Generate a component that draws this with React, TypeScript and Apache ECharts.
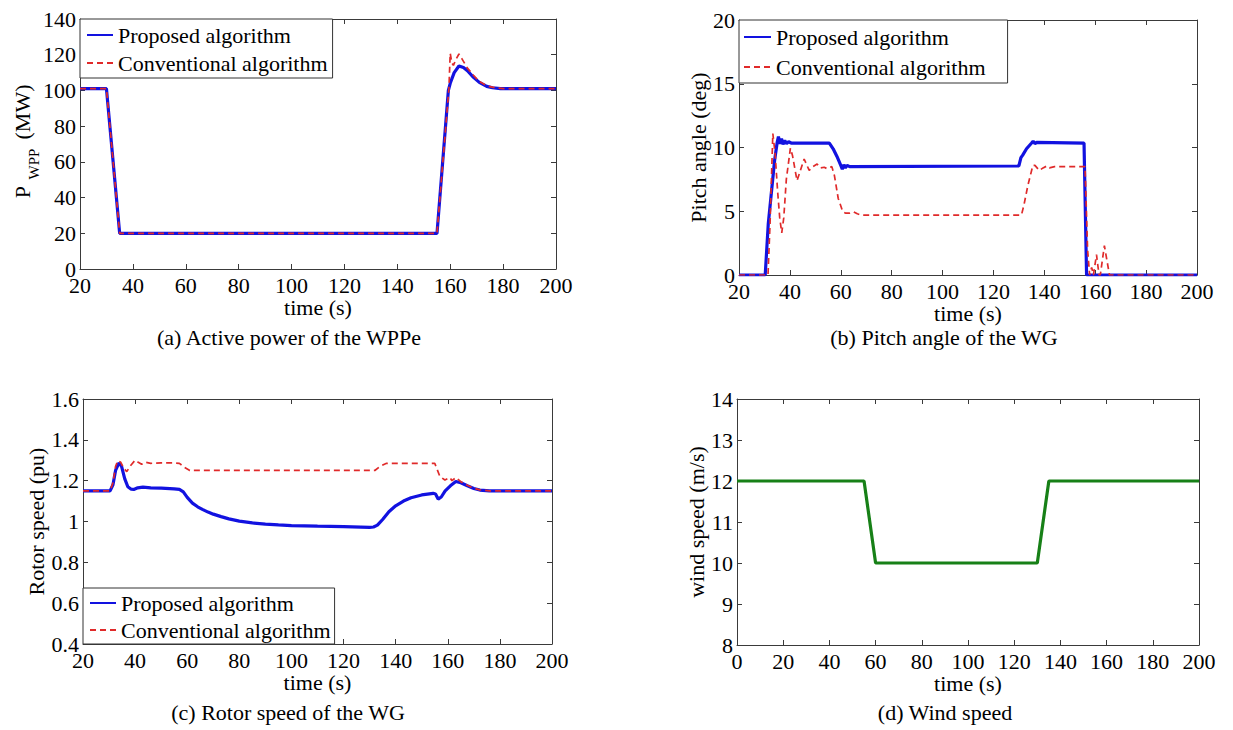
import React, { useEffect, useRef } from "react";
import * as echarts from "echarts";

const FONT = "Liberation Serif, Times New Roman, serif";
const FONT_TICK = "serif";
const FONT_NAME = "'Liberation Serif', serif";
const FONT_LEGEND = "Times New Roman";
const AX = "#3a3a3a";
const BLUE = "#1212e0";
const RED = "#e02a2a";
const GREEN = "#178017";

const NAME_P = "Proposed algorithm";
const NAME_C = "Conventional algorithm";

// (a) Active power of the WPPe  [time s, MW]
const powerProposed: [number, number][] = [
  [20, 101], [30, 101], [35, 20], [155, 20], [159.3, 100], [160, 104], [161.5, 110],
  [163.3, 113.7], [165, 112.8], [166.5, 111], [168.8, 107.3], [171, 104.5],
  [173.8, 102.3], [176, 101.5], [179, 101], [200, 101],
];
const powerConventional: [number, number][] = [
  [20, 101], [30, 101], [35, 20], [155, 20], [159.5, 101], [160, 120.8], [160.6, 115.5],
  [161.2, 114], [162.2, 117.5], [163.3, 120.4], [164.5, 117.5], [166.5, 112.5],
  [168.8, 108.5], [171, 105], [174, 102.5], [177, 101.5], [180, 101], [200, 101],
];

// (b) Pitch angle of the WG  [time s, deg]
const pitchProposed: [number, number][] = [
  [20, 0], [30.3, 0], [31.5, 4], [32.5, 6], [34, 9], [35, 10.4], [35.5, 10.85], [36.1, 10.3],
  [36.7, 10.7], [37.3, 10.25], [38, 10.55], [38.7, 10.3], [39.5, 10.45], [40.5, 10.35],
  [55.5, 10.35], [57, 9.9], [58.5, 9.3], [60, 8.6], [60.6, 8.3], [61.2, 8.65], [61.8, 8.4],
  [62.5, 8.6], [63.5, 8.5], [130, 8.55], [130.8, 9.2], [131.5, 9.4], [133, 9.9], [135, 10.35],
  [135.6, 10.5], [136.3, 10.3], [137, 10.4], [155.6, 10.35], [156.6, 0], [200, 0],
];
const pitchConventional: [number, number][] = [
  [20, 0], [31.4, 0], [32.2, 4], [33.3, 11.1], [34.2, 9.5], [35.2, 6.5], [36, 4.5], [36.8, 3.3],
  [37.6, 4.5], [38.6, 7.5], [40.2, 9.95], [41, 9.4], [42.8, 7.4], [43.8, 8], [45.6, 9.1],
  [47.6, 8.2], [49, 8.5], [50.7, 8.7], [52, 8.4], [53.5, 8.45], [54.5, 8.35], [56.5, 8.5],
  [57.5, 7.8], [59, 6], [60.8, 4.95], [62, 4.85], [63.5, 4.85], [65, 4.95], [66.5, 4.8],
  [68, 4.7], [131, 4.7], [132, 5.5], [133.5, 7], [135.5, 8.6], [136.3, 8.6], [138, 8.2],
  [139.5, 8.4], [141, 8.55], [142, 8.4], [144, 8.5], [156, 8.5], [157, 2], [157.8, 0],
  [158.6, 0.6], [159.3, 0], [160.5, 1.6], [161.5, 0], [162, 0], [163.6, 2.3], [165.6, 0], [200, 0],
];

// (c) Rotor speed of the WG  [time s, pu]
const rotorProposed: [number, number][] = [
  [20, 1.15], [30.4, 1.15], [31.5, 1.18], [32.5, 1.25], [33.8, 1.287], [34.8, 1.27], [36, 1.21],
  [37.2, 1.17], [38.5, 1.158], [39.5, 1.157], [41, 1.165], [43, 1.168], [46, 1.165], [50, 1.163],
  [55, 1.16], [57, 1.157], [58.5, 1.145], [60, 1.118], [62, 1.09], [64, 1.072], [66, 1.058],
  [68, 1.046], [70, 1.036], [73, 1.024], [76, 1.013], [80, 1.002], [85, 0.993], [90, 0.987],
  [95, 0.983], [100, 0.98], [110, 0.977], [120, 0.975], [130, 0.971], [131.5, 0.973],
  [133, 0.982], [135, 1.01], [137.4, 1.048], [140, 1.077], [143, 1.1], [145.9, 1.116],
  [150, 1.13], [154.4, 1.138], [155.3, 1.135], [156.3, 1.11], [157.5, 1.12], [159, 1.15],
  [161, 1.175], [163.1, 1.196], [165, 1.19], [167.5, 1.175], [170, 1.162], [172.3, 1.154],
  [176, 1.15], [200, 1.15],
];
const rotorConventional: [number, number][] = [
  [20, 1.15], [30.4, 1.15], [31.5, 1.19], [32.5, 1.27], [33.4, 1.298], [34.5, 1.29],
  [35.7, 1.26], [36.8, 1.244], [38, 1.27], [40, 1.3], [41.2, 1.29], [42.5, 1.28], [44, 1.29],
  [46, 1.285], [50, 1.287], [55, 1.287], [57, 1.285], [59, 1.265], [61, 1.25], [132, 1.25],
  [134, 1.27], [136.5, 1.285], [155, 1.285], [157, 1.22], [158.9, 1.203], [160.8, 1.215],
  [161.6, 1.2], [163.1, 1.215], [165, 1.195], [167.5, 1.178], [170, 1.163], [172.3, 1.155],
  [176, 1.15], [200, 1.15],
];

// (d) Wind speed  [time s, m/s]
const windTime = [0, 55, 60, 130, 135, 200];
const windSpeed = [12, 12, 10, 10, 12, 12];

const captions = [
  "(a) Active power of the WPPe",
  "(b) Pitch angle of the WG",
  "(c) Rotor speed of the WG",
  "(d) Wind speed",
];

const grids = [
  { left: 80, top: 19, width: 476, height: 250 },
  { left: 739, top: 20, width: 458, height: 255 },
  { left: 83, top: 399, width: 469, height: 245 },
  { left: 737, top: 399, width: 462, height: 246 },
];

const tickLabel = { color: "#000", fontFamily: FONT_TICK, fontSize: 22 };
const nameStyle = { color: "#000", fontFamily: FONT_NAME, fontSize: 22 };

function fmt(v: number) {
  return String(+v.toFixed(2));
}

function xAxisPair(gridIndex: number, min: number, max: number, interval: number, nameGap: number) {
  const common = {
    type: "value",
    gridIndex,
    min,
    max,
    interval,
    splitLine: { show: false },
    axisLine: { show: true, onZero: false, lineStyle: { color: AX, width: 1 } },
    axisTick: { show: true, inside: true, length: 5, lineStyle: { color: AX, width: 1 } },
  };
  return [
    {
      ...common,
      position: "bottom",
      name: "time (s)",
      nameLocation: "middle",
      nameGap,
      nameTextStyle: nameStyle,
      axisLabel: { ...tickLabel, margin: 5, formatter: fmt, showMinLabel: true, showMaxLabel: true },
    },
    { ...common, position: "top", axisLabel: { show: false } },
  ];
}

function yAxisPair(gridIndex: number, min: number, max: number, interval: number, name: string, nameGap: number) {
  const common = {
    type: "value",
    gridIndex,
    min,
    max,
    interval,
    splitLine: { show: false },
    axisLine: { show: true, onZero: false, lineStyle: { color: AX, width: 1 } },
    axisTick: { show: true, inside: true, length: 5, lineStyle: { color: AX, width: 1 } },
  };
  return [
    {
      ...common,
      position: "left",
      name,
      nameLocation: "middle",
      nameGap,
      nameTextStyle: nameStyle,
      axisLabel: { ...tickLabel, margin: 4, formatter: fmt, showMinLabel: true, showMaxLabel: true },
    },
    { ...common, position: "right", axisLabel: { show: false } },
  ];
}

function lineSeries(name: string, data: [number, number][], axisIdx: number, kind: "p" | "c" | "g") {
  const color = kind === "p" ? BLUE : kind === "c" ? RED : GREEN;
  return {
    type: "line",
    name,
    data,
    xAxisIndex: axisIdx * 2,
    yAxisIndex: axisIdx * 2,
    symbol: "none",
    showSymbol: false,
    smooth: false,
    animation: false,
    z: kind === "c" ? 3 : 2,
    itemStyle: { color },
    lineStyle: {
      color,
      width: kind === "c" ? 1.7 : 3.2,
      type: kind === "c" ? [6, 4] : "solid",
    },
    emphasis: { disabled: true },
  };
}

function legendBox(left: number, top: number, padding: number[], itemGap: number, itemWidth: number) {
  return {
    show: true,
    orient: "vertical",
    left,
    top,
    padding,
    itemGap,
    itemWidth,
    itemHeight: 14,
    backgroundColor: "#fff",
    borderColor: "#333",
    borderWidth: 1,
    borderRadius: 0,
    selectedMode: false,
    itemStyle: { opacity: 0 },
    data: [NAME_P, NAME_C],
    textStyle: { color: "#000", fontFamily: FONT_LEGEND, fontSize: 22, padding: [0, 0, 0, 0] },
  };
}

function textEl(text: string, x: number, y: number, size: number, rotation = 0) {
  return {
    type: "text",
    x,
    y,
    rotation,
    style: {
      text,
      fontFamily: FONT,
      fontSize: size,
      fill: "#000",
      align: "center",
      verticalAlign: "middle",
    },
  };
}

export default function App() {
  const ref = useRef<HTMLDivElement>(null);

  useEffect(() => {
    if (!ref.current) return;
    const chart = echarts.init(ref.current, null, { renderer: "svg" });

    const windData: [number, number][] = windTime.map((t, i) => [t, windSpeed[i]]);

    const option = {
      animation: false,
      backgroundColor: "#fff",
      textStyle: { fontFamily: FONT },
      grid: grids.map((g) => ({ ...g, containLabel: false, show: false })),
      xAxis: [
        ...xAxisPair(0, 20, 200, 20, 27),
        ...xAxisPair(1, 20, 200, 20, 26),
        ...xAxisPair(2, 20, 200, 20, 27),
        ...xAxisPair(3, 0, 200, 20, 26),
      ],
      yAxis: [
        ...yAxisPair(0, 0, 140, 20, "", 40),
        ...yAxisPair(1, 0, 20, 5, "Pitch angle (deg)", 30),
        ...yAxisPair(2, 0.4, 1.6, 0.2, "Rotor speed (pu)", 36),
        ...yAxisPair(3, 8, 14, 1, "wind speed (m/s)", 28),
      ],
      legend: [
        legendBox(80, 19, [5, 5, 4, 6], 6, 26),
        legendBox(739, 20, [6, 22, 5, 4], 8, 27),
        legendBox(83, 588, [4, 4, 3, 6], 5, 26),
      ],
      series: [
        lineSeries(NAME_P, powerProposed, 0, "p"),
        lineSeries(NAME_C, powerConventional, 0, "c"),
        lineSeries(NAME_P, pitchProposed, 1, "p"),
        lineSeries(NAME_C, pitchConventional, 1, "c"),
        lineSeries(NAME_P, rotorProposed, 2, "p"),
        lineSeries(NAME_C, rotorConventional, 2, "c"),
        lineSeries("Wind speed", windData, 3, "g"),
      ],
      graphic: [
        textEl("P", 22, 192, 22, Math.PI / 2),
        textEl("WPP", 34, 164, 15, Math.PI / 2),
        textEl("(MW)", 22, 112, 22, Math.PI / 2),
        textEl(captions[0], 289, 337, 22),
        textEl(captions[1], 944, 337, 22),
        textEl(captions[2], 288, 712, 22),
        textEl(captions[3], 945, 712, 22),
      ],
    };

    chart.setOption(option as any);
    return () => chart.dispose();
  }, []);

  return (
    <div
      ref={ref}
      style={{ position: "fixed", left: 0, top: 0, width: 1233, height: 730, background: "#fff" }}
    />
  );
}
